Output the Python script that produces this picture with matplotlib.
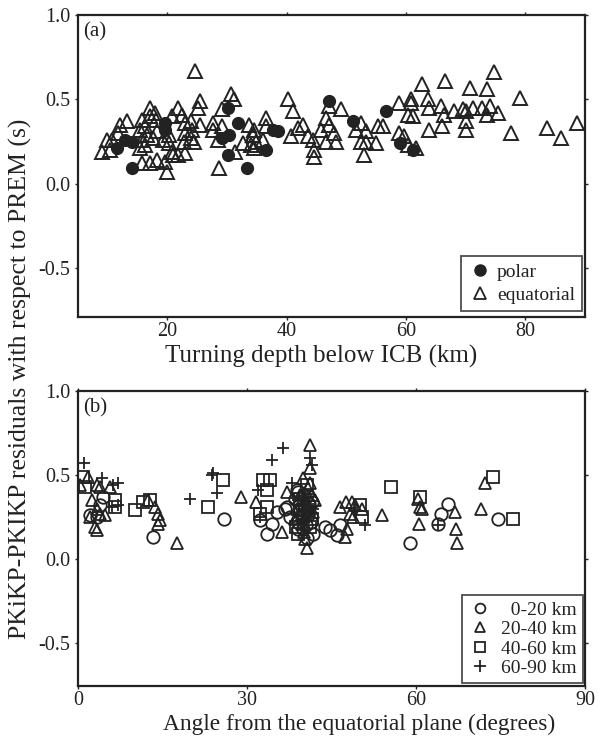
import matplotlib
matplotlib.use("Agg")
import matplotlib.pyplot as plt
from matplotlib.lines import Line2D

plt.rcParams['font.family'] = ['Liberation Serif', 'DejaVu Serif']

# ---------------- Panel (a) data ----------------
polar_depth = [11.6, 12.9, 14.1, 14.1, 19.6, 19.6, 29.2, 30.3, 30.1, 30.1,
               31.9, 33.3, 36.6, 37.7, 38.5, 47.1, 51.1, 56.7, 59.0, 61.1]
polar_res = [0.21, 0.26, 0.25, 0.095, 0.36, 0.32, 0.27, 0.29, 0.45, 0.17,
             0.36, 0.095, 0.20, 0.32, 0.31, 0.49, 0.37, 0.43, 0.24, 0.20]

eq_depth = [24.7, 30.6, 31.1, 25.5, 25.2, 29.1,
            17.1, 17.9, 17.1, 21.7, 22.5, 20.8,
            15.8, 16.3, 15.4, 16.6, 15.8, 16.3, 15.4,
            13.2, 12.1, 11.7, 10.7, 9.9, 9.0, 10.4,
            18.0, 18.3, 17.6, 19.3, 20.2, 20.2, 20.8, 21.0, 19.6, 18.3, 17.1, 15.8, 20.0, 21.8, 23.0,
            23.0, 23.9, 24.2, 23.0, 23.9, 22.7, 24.4,
            25.5, 27.6, 27.7, 29.2, 28.4, 28.6,
            31.4, 32.6, 33.6, 34.3, 34.0,
            40.2, 41.0,
            36.5, 36.5, 34.5, 34.3, 34.8, 34.5, 36.1,
            40.7, 41.9, 42.7, 43.6, 44.4, 44.6, 44.6,
            46.6, 47.1, 45.7, 47.9, 46.6, 48.3, 49.1, 47.1,
            52.5, 51.6, 53.3, 52.5, 53.3, 55.0, 53.0,
            55.3, 56.2,
            58.9, 60.9, 60.9, 60.4, 61.2, 58.9, 59.7, 60.4, 61.7,
            62.6, 66.6, 74.7, 70.7, 73.5, 79.1,
            63.6, 63.9, 65.9, 66.4, 68.1, 69.6, 70.0, 71.3, 72.7, 74.0, 73.5, 75.5,
            70.0, 70.0, 63.9, 66.1, 77.6, 83.6, 86.0, 88.7]
eq_res = [0.67, 0.53, 0.50, 0.49, 0.45, 0.44,
          0.45, 0.42, 0.40, 0.45, 0.41, 0.40,
          0.38, 0.34, 0.32, 0.29, 0.26, 0.23, 0.21,
          0.37, 0.35, 0.30, 0.26, 0.26, 0.19, 0.20,
          0.38, 0.31, 0.27, 0.26, 0.29, 0.24, 0.19, 0.17, 0.13, 0.14, 0.12, 0.12, 0.07, 0.17, 0.18,
          0.36, 0.37, 0.32, 0.30, 0.27, 0.25, 0.25,
          0.35, 0.36, 0.32, 0.34, 0.26, 0.095,
          0.19, 0.24, 0.35, 0.29, 0.23,
          0.50, 0.43,
          0.39, 0.34, 0.32, 0.29, 0.25, 0.21, 0.26,
          0.28, 0.33, 0.35, 0.28, 0.26, 0.20, 0.16,
          0.39, 0.35, 0.32, 0.30, 0.25, 0.25, 0.44, 0.46,
          0.36, 0.32, 0.31, 0.25, 0.25, 0.24, 0.17,
          0.34, 0.34,
          0.48, 0.50, 0.48, 0.41, 0.40, 0.30, 0.28, 0.23, 0.21,
          0.59, 0.61, 0.66, 0.57, 0.56, 0.51,
          0.50, 0.45, 0.46, 0.41, 0.43, 0.44, 0.43, 0.45, 0.45, 0.46, 0.41, 0.42,
          0.37, 0.32, 0.32, 0.34, 0.30, 0.33, 0.27, 0.36]

# ---------------- Panel (b) data ----------------
d0_20_angle = [4.4, 3.9, 2.1, 3.4, 13.3, 26.0, 33.5, 32.3, 34.4, 35.3, 37.1, 36.7,
               37.6, 39.1, 40.6, 43.8, 44.7, 46.0, 46.5, 58.9, 65.7, 64.4, 63.9, 74.6,
               38.5, 39.5, 40.0, 39.0, 40.5, 41.0, 38.8,
               39.0, 40.2, 41.5, 39.5, 40.8, 41.3, 39.2, 40.0, 41.8]
d0_20_res = [0.37, 0.32, 0.26, 0.25, 0.13, 0.24, 0.15, 0.23, 0.21, 0.28, 0.31, 0.30,
             0.25, 0.18, 0.125, 0.19, 0.17, 0.14, 0.20, 0.095, 0.33, 0.27, 0.21, 0.24,
             0.36, 0.30, 0.27, 0.22, 0.20, 0.33, 0.41,
             0.40, 0.38, 0.34, 0.33, 0.26, 0.22, 0.28, 0.18, 0.15]

d20_40_angle = [0.3, 1.8, 3.4, 3.9, 5.7, 2.5, 3.4, 3.9, 4.8, 3.0, 3.4, 2.1,
                12.4, 13.7, 14.2, 14.6, 14.2, 17.6, 28.9, 31.6, 37.1, 36.2,
                41.2, 41.2, 40.0, 40.6, 46.5, 47.6, 48.6, 49.2, 50.4, 47.8, 47.4,
                48.8, 48.3, 54.0, 60.4, 60.7, 61.1, 60.5, 66.9, 67.1, 67.3, 71.5, 72.3,
                39.5, 40.3, 41.0, 40.8, 39.8, 41.5, 40.2, 41.8,
                38.8, 40.6, 39.7, 41.2, 42.0, 38.5, 40.3]
d20_40_res = [0.44, 0.49, 0.44, 0.43, 0.43, 0.35, 0.30, 0.27, 0.26, 0.19, 0.17, 0.25,
              0.35, 0.31, 0.27, 0.23, 0.21, 0.095, 0.37, 0.34, 0.40, 0.16,
              0.68, 0.54, 0.48, 0.065, 0.31, 0.34, 0.34, 0.32, 0.30, 0.18, 0.13,
              0.25, 0.27, 0.26, 0.36, 0.31, 0.30, 0.21, 0.28, 0.18, 0.095, 0.30, 0.45,
              0.38, 0.35, 0.30, 0.42, 0.26, 0.38, 0.16, 0.28,
              0.30, 0.32, 0.21, 0.45, 0.35, 0.24, 0.12]

d40_60_angle = [0.9, 1.2, 6.6, 6.6, 10.1, 11.5, 12.8, 25.8, 23.1, 32.9, 34.1, 33.5,
                32.3, 33.5, 39.1, 41.2, 55.6, 60.7, 50.1, 50.4, 73.7, 77.2, 40.0, 41.0,
                39.4, 40.7, 41.6, 38.7, 40.3]
d40_60_res = [0.49, 0.43, 0.35, 0.31, 0.29, 0.34, 0.35, 0.47, 0.31, 0.47, 0.47, 0.41,
              0.27, 0.31, 0.15, 0.19, 0.43, 0.37, 0.32, 0.25, 0.49, 0.24, 0.25, 0.31,
              0.36, 0.44, 0.24, 0.19, 0.29]

d60_90_angle = [1.1, 4.3, 6.2, 7.1, 7.1, 6.0, 19.9, 23.8, 24.0, 24.7, 34.4, 36.4,
                32.0, 32.3, 41.2, 41.5, 51.0, 49.2, 63.9, 38.0, 39.8, 40.5,
                39.0, 40.9, 41.7, 40.1]
d60_90_res = [0.57, 0.48, 0.44, 0.45, 0.32, 0.31, 0.36, 0.50, 0.51, 0.39, 0.59, 0.66,
              0.41, 0.25, 0.60, 0.56, 0.20, 0.29, 0.20, 0.45, 0.30, 0.24,
              0.35, 0.37, 0.30, 0.22]

a_xticks = [20, 40, 60, 80]
b_xticks = [0, 30, 60, 90]
yticks = [1.0, 0.5, 0.0, -0.5]
ytick_labels = ['1.0', '0.5', '0.0', '-0.5']

INK = '#222222'

fig = plt.figure(figsize=(5.98, 7.39), dpi=100)
ax1 = fig.add_axes([0.1304, 0.571, 0.8478, 0.4087])
ax2 = fig.add_axes([0.1304, 0.0717, 0.8478, 0.3992])

for ax in (ax1, ax2):
    for s in ax.spines.values():
        s.set_linewidth(1.6)
        s.set_color(INK)
    ax.tick_params(direction='out', length=2.5, width=1.0, color=INK,
                   labelsize=14.5, top=True, right=True, labeltop=False,
                   labelright=False, labelcolor=INK)
    ax.tick_params(axis='x', pad=0.8)
    ax.tick_params(axis='y', pad=3)
    ax.set_yticks(yticks)
    ax.set_yticklabels(ytick_labels)

ax1.set_ylim(-0.79, 1.0)
ax2.set_ylim(-0.756, 1.0)

# Panel (a)
ax1.plot(eq_depth, eq_res, linestyle='none', marker='^', markersize=9.5,
         markerfacecolor='none', markeredgecolor=INK, markeredgewidth=1.4)
ax1.plot(polar_depth, polar_res, linestyle='none', marker='o', markersize=8.5,
         markerfacecolor=INK, markeredgecolor=INK)
ax1.set_xlim(5, 90)
ax1.set_xticks(a_xticks)
ax1.set_xlabel('Turning depth below ICB (km)', fontsize=18, color=INK, labelpad=0)
ax1.xaxis.set_label_coords(0.48, -0.092)
ax1.text(0.01, 0.975, '(a)', transform=ax1.transAxes, fontsize=15,
         va='top', ha='left', color=INK)

h_a = [Line2D([], [], linestyle='none', marker='o', markersize=8,
              markerfacecolor=INK, markeredgecolor=INK),
       Line2D([], [], linestyle='none', marker='^', markersize=8,
              markerfacecolor='none', markeredgecolor=INK, markeredgewidth=1.3)]
leg_a = ax1.legend(h_a, ['polar', 'equatorial'], loc='lower right',
                   bbox_to_anchor=(0.994, 0.02), fontsize=14, frameon=True,
                   fancybox=False, borderpad=0.35, handletextpad=0.3,
                   labelspacing=0.3, handlelength=1.2, borderaxespad=0.0)
leg_a.get_frame().set_edgecolor(INK)
leg_a.get_frame().set_linewidth(1.3)
for t in leg_a.get_texts():
    t.set_color(INK)

# Panel (b)
ax2.plot(d0_20_angle, d0_20_res, linestyle='none', marker='o', markersize=9,
         markerfacecolor='none', markeredgecolor=INK, markeredgewidth=1.3)
ax2.plot(d20_40_angle, d20_40_res, linestyle='none', marker='^', markersize=8.5,
         markerfacecolor='none', markeredgecolor=INK, markeredgewidth=1.3)
ax2.plot(d40_60_angle, d40_60_res, linestyle='none', marker='s', markersize=8,
         markerfacecolor='none', markeredgecolor=INK, markeredgewidth=1.3)
ax2.plot(d60_90_angle, d60_90_res, linestyle='none', marker='+', markersize=9,
         markeredgecolor=INK, markeredgewidth=1.3)
ax2.set_xlim(0, 90)
ax2.set_xticks(b_xticks)
ax2.set_xlabel('Angle from the equatorial plane (degrees)', fontsize=16.8,
               color=INK, labelpad=0)
ax2.xaxis.set_label_coords(0.555, -0.0935)
ax2.text(0.01, 0.975, '(b)', transform=ax2.transAxes, fontsize=15,
         va='top', ha='left', color=INK)

h_b = [Line2D([], [], linestyle='none', marker='o', markersize=7,
              markerfacecolor='none', markeredgecolor=INK, markeredgewidth=1.3),
       Line2D([], [], linestyle='none', marker='^', markersize=7,
              markerfacecolor='none', markeredgecolor=INK, markeredgewidth=1.3),
       Line2D([], [], linestyle='none', marker='s', markersize=7,
              markerfacecolor='none', markeredgecolor=INK, markeredgewidth=1.3),
       Line2D([], [], linestyle='none', marker='+', markersize=8,
              markeredgecolor=INK, markeredgewidth=1.3)]
leg_b = ax2.legend(h_b, ['  0-20 km', '20-40 km', '40-60 km', '60-90 km'],
                   loc='lower right', bbox_to_anchor=(0.996, 0.01), fontsize=14,
                   frameon=True, fancybox=False, borderpad=0.3,
                   handletextpad=0.5, labelspacing=0.1, handlelength=1.2,
                   borderaxespad=0.0)
leg_b.get_frame().set_edgecolor(INK)
leg_b.get_frame().set_linewidth(1.3)
for t in leg_b.get_texts():
    t.set_color(INK)

fig.text(0.035, 0.487, 'PKiKP-PKIKP residuals with respect to PREM (s)',
         rotation=90, fontsize=18.5, va='center', ha='center', color=INK)

fig.savefig('out.png', dpi=100)
